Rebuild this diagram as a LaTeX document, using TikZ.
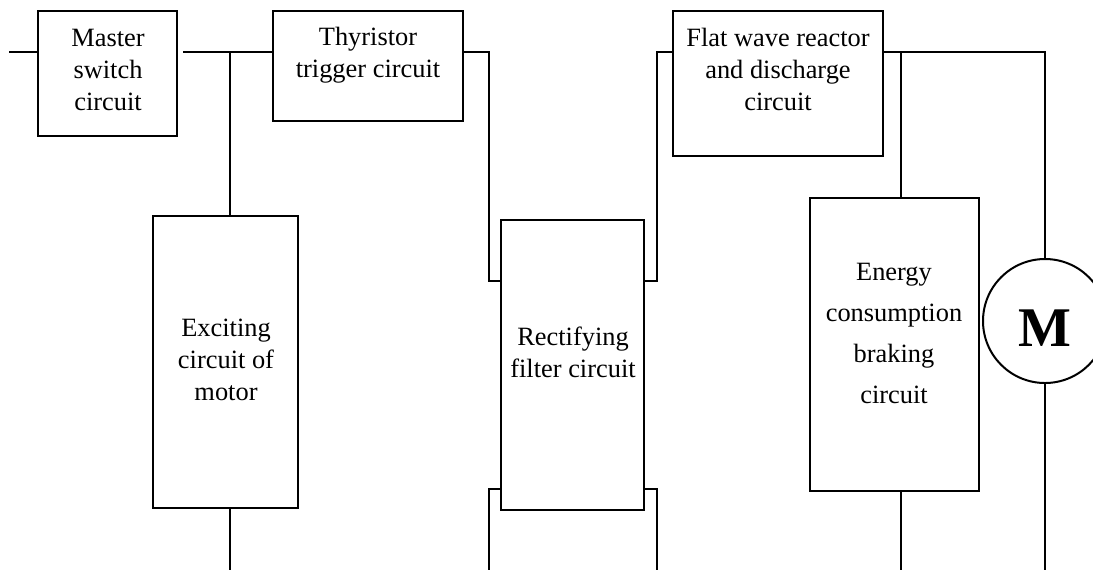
\documentclass[tikz,border=0pt]{standalone}
\usepackage{fontspec}
\setmainfont{Liberation Serif}
\usetikzlibrary{positioning}

\begin{document}
\begin{tikzpicture}[x=0.5pt, y=-0.5pt]
  % Block diagram of the drive circuit
  \tikzset{
    blk/.style={draw, line width=1pt, inner sep=0, fill=white},
    lbl/.style={font=\fontsize{13.2}{16}\selectfont, align=center, inner sep=0},
    wire/.style={line width=1pt}
  }
  \useasboundingbox (0,0) rectangle (1093,570);
  \clip (0,0) rectangle (1093,570);

  % Blocks
  \node[blk, minimum width=69.5pt, minimum height=62.5pt] (master) at (107.5,73.5) {};
  \node[lbl] (masterT) at (108,70) {Master\\switch\\circuit};
  \node[blk, minimum width=95pt, minimum height=55pt] (thyr) at (368,66) {};
  \node[lbl] (thyrT) at (368,55) {Thyristor\\trigger circuit};
  \node[blk, minimum width=105pt, minimum height=72.5pt] (flat) at (778,83.5) {};
  \node[lbl] (flatT) at (778,69) {Flat wave reactor\\and discharge\\circuit};
  \node[blk, minimum width=72.5pt, minimum height=146pt] (excite) at (225.5,362) {};
  \node[lbl] (exciteT) at (226,360) {Exciting\\circuit of\\motor};
  \node[blk, minimum width=71.5pt, minimum height=145pt] (rect) at (572.5,365) {};
  \node[lbl] (rectT) at (573,352) {Rectifying\\filter circuit};
  \node[blk, minimum width=84.5pt, minimum height=146.5pt] (energy) at (894.5,344.5) {};
  \node[lbl, font=\fontsize{13.2}{20.5}\selectfont] (energyT) at (894,333) {Energy\\consumption\\braking\\circuit};

  % Motor
  \node[blk, circle, minimum size=62pt, text height=25pt, text depth=0pt,
        font=\fontsize{28}{30}\selectfont\bfseries] (motor) at (1045,321) {M};

  % Bends and free ends of the wires
  \coordinate (in) at (9,52);
  \coordinate (j1) at (230,52);
  \coordinate (ta) at (489,52);
  \coordinate (tb) at (489,281);
  \coordinate (fa) at (657,52);
  \coordinate (fb) at (657,281);
  \coordinate (j2) at (901,52);
  \coordinate (ma) at (1045,52);
  \coordinate (ra) at (489,489);
  \coordinate (rb) at (657,489);
  \coordinate (o1) at (230,570);
  \coordinate (o2) at (489,570);
  \coordinate (o3) at (657,570);
  \coordinate (o4) at (901,570);
  \coordinate (o5) at (1045,570);

  % Wires
  \draw[wire] (in) -- (in -| master.west);
  \draw[wire, shorten <=2.5pt] (master.east |- j1) -- (j1) -- (j1 -| thyr.west);
  \draw[wire] (j1) -- (j1 |- excite.north);
  \draw[wire] (excite.south -| j1) -- (o1);
  \draw[wire] (thyr.east |- ta) -- (ta) -- (tb) -- (tb -| rect.west);
  \draw[wire] (rect.east |- fb) -- (fb) -- (fa) -- (fa -| flat.west);
  \draw[wire] (rect.west |- ra) -- (ra) -- (o2);
  \draw[wire] (rect.east |- rb) -- (rb) -- (o3);
  \draw[wire] (flat.east |- j2) -- (ma) -- (motor.north);
  \draw[wire] (j2) -- (j2 |- energy.north);
  \draw[wire] (energy.south -| j2) -- (o4);
  \draw[wire] (motor.south) -- (o5);
\end{tikzpicture}
\end{document}
